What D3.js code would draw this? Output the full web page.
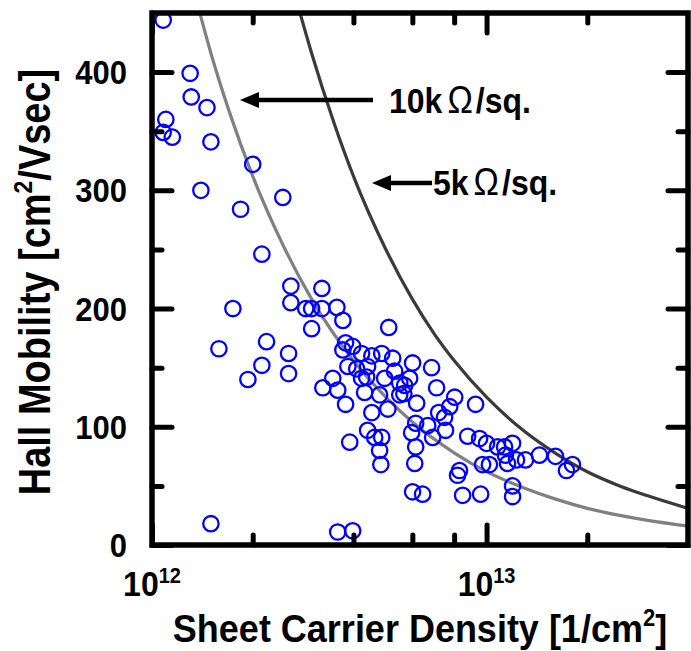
<!DOCTYPE html>
<html>
<head>
<meta charset="utf-8">
<script src="https://cdn.jsdelivr.net/npm/d3@7"></script>
<style>
  body { margin: 0; background: #fff; }
  svg text { font-family: "Liberation Sans", Arial, sans-serif; font-weight: bold; }
</style>
</head>
<body>
<div id="chart"></div>
<script>
// sheet carrier density in units of 1e12 /cm^2, hall mobility in cm^2/Vs
const densityE12 = [
  1.08, 1.30, 1.31, 1.46, 1.10, 1.08, 1.15, 1.50, 2.00, 1.40, 2.46, 1.84, 2.13, 2.60, 3.22,
  1.745, 2.60, 2.88, 3.00, 3.22, 3.57, 3.72, 3.00, 5.10, 1.585, 2.20, 2.56, 2.13, 2.56, 1.935,
  3.79, 3.98, 3.72, 4.23, 4.54, 4.86, 5.24, 3.85, 4.09, 4.41, 3.47, 4.23, 4.38, 4.96, 5.50,
  3.24, 3.59, 4.32, 4.79, 5.50, 3.79, 4.54, 5.07, 4.41, 4.63, 3.90, 4.79, 4.83, 1.50, 3.59,
  3.98, 6.01, 6.85, 5.31, 5.89, 5.69, 7.09, 5.66, 6.18, 8.03, 7.76, 9.27, 7.19, 7.49, 6.14,
  6.67, 7.54, 5.97, 6.90, 4.86, 6.14, 6.10, 8.78, 9.53, 10.0, 10.79, 11.32, 11.96, 11.39, 12.29,
  11.55, 13.07, 14.39, 16.07, 18.06, 17.33, 8.30, 8.19, 9.73, 10.2, 6.01, 6.44, 8.48, 9.60, 11.96,
  11.96
];
const mobility = [
  444, 399, 379, 370, 360, 349, 345, 341, 322, 300, 294, 284, 246, 219, 217,
  200, 205, 200, 200, 200, 201, 190, 183, 184, 166, 172, 162, 152, 145, 140,
  171, 168, 165, 162, 160, 162, 158, 151, 149, 151, 141, 141, 142, 141, 137,
  133, 131, 129, 127, 127, 119, 112, 115, 97, 91, 87, 80, 68, 18, 11,
  12, 154, 150, 147, 141, 135, 133, 128, 120, 125, 117, 119, 112, 108, 103,
  101, 97, 95, 91, 91, 83, 69, 92, 90, 86, 83, 83, 86, 76, 72,
  69, 72, 76, 75, 68, 63, 63, 59, 68, 68, 45, 43, 42, 43, 50,
  41
];

// constant sheet resistance lines
const line10kDensity = [1.39, 1.5, 1.7, 2, 2.5, 3, 4, 5, 6, 8, 10, 13, 16, 20, 25, 30, 40];
const line10kMobility = [450, 416, 367, 312, 250, 208, 156, 125, 104, 78, 62, 48, 39, 31, 25, 21, 16];
const line5kDensity = [2.77, 3, 3.5, 4, 5, 6, 7, 8, 10, 13, 16, 20, 25, 30, 40];
const line5kMobility = [450, 416, 357, 312, 250, 208, 178, 156, 125, 96, 78, 62, 50, 42, 31];

const yTicks = [0, 100, 200, 300, 400];
const yMinorTicks = [50, 150, 250, 350];
const xTicks = [1, 10];
const xTickExp = ['12', '13'];
const xMinorTicks = [2, 4, 6, 8, 20];

// ---------------------------------------------------------------
const width = 691, height = 651;
const plotL = 152, plotR = 688, plotT = 13, plotB = 545;

const svg = d3.select('#chart').append('svg')
  .attr('width', width)
  .attr('height', height);

const x = d3.scaleLog().domain([1, 40]).range([plotL, plotR]);
const y = d3.scaleLinear().domain([0, 450]).range([plotB, plotT]);

svg.append('clipPath').attr('id', 'plot-clip')
  .append('rect')
  .attr('x', plotL).attr('y', plotT)
  .attr('width', plotR - plotL).attr('height', plotB - plotT);

// 抵抗一定の線 -----------------------------------------------------
const line = d3.line()
  .x(d => x(d[0]))
  .y(d => y(d[1]))
  .curve(d3.curveMonotoneX);

const curves = [
  {pts: d3.zip(line10kDensity, line10kMobility), color: '#808080'},
  {pts: d3.zip(line5kDensity, line5kMobility), color: '#3a3a3a'}
];
svg.append('g').attr('clip-path', 'url(#plot-clip)')
  .selectAll('path')
  .data(curves)
  .join('path')
  .attr('d', d => line(d.pts))
  .attr('fill', 'none')
  .attr('stroke', d => d.color)
  .attr('stroke-width', 3.2);

// 測定点 ------------------------------------------------------------
svg.append('g')
  .selectAll('circle')
  .data(d3.zip(densityE12, mobility))
  .join('circle')
  .attr('cx', d => x(d[0]))
  .attr('cy', d => y(d[1]))
  .attr('r', 7.7)
  .attr('fill', 'none')
  .attr('stroke', '#0000ff')
  .attr('stroke-width', 2.3);

// 軸 ----------------------------------------------------------------
const tickStyle = g => {
  g.select('.domain').remove();
  g.selectAll('.tick line')
    .attr('stroke', '#000')
    .attr('stroke-width', 5)
    .attr('stroke-linecap', 'round');
};
const addAxis = (axis, tx, ty) => svg.append('g')
  .attr('transform', `translate(${tx},${ty})`)
  .call(axis.tickFormat(''))
  .call(tickStyle);

addAxis(d3.axisBottom(x).tickValues(xTicks).tickSize(-20), 0, plotB);
addAxis(d3.axisBottom(x).tickValues(xMinorTicks).tickSize(-10), 0, plotB);
addAxis(d3.axisTop(x).tickValues(xTicks).tickSize(-20), 0, plotT);
addAxis(d3.axisTop(x).tickValues(xMinorTicks).tickSize(-10), 0, plotT);
addAxis(d3.axisLeft(y).tickValues(yTicks).tickSize(-20), plotL, 0);
addAxis(d3.axisLeft(y).tickValues(yMinorTicks).tickSize(-10), plotL, 0);
addAxis(d3.axisRight(y).tickValues(yTicks).tickSize(-20), plotR, 0);
addAxis(d3.axisRight(y).tickValues(yMinorTicks).tickSize(-10), plotR, 0);

svg.append('rect')
  .attr('x', plotL).attr('y', plotT)
  .attr('width', plotR - plotL).attr('height', plotB - plotT)
  .attr('fill', 'none')
  .attr('stroke', '#000')
  .attr('stroke-width', 5.5);

// 目盛りラベル ------------------------------------------------------
svg.append('g')
  .selectAll('text')
  .data(yTicks)
  .join('text')
  .attr('transform', d => `translate(127,${y(d) + 12}) scale(1,1.08)`)
  .attr('text-anchor', 'end')
  .attr('font-size', '31px')
  .text(d => d);

const xLab = svg.append('g')
  .selectAll('text')
  .data(xTicks)
  .join('text')
  .attr('transform', d => `translate(${x(d)},596) scale(1,1.08)`)
  .attr('text-anchor', 'middle')
  .attr('font-size', '32px');
xLab.append('tspan').text('10');
xLab.append('tspan').attr('font-size', '20px').attr('dy', -12).text((d, i) => xTickExp[i]);

// 軸タイトル --------------------------------------------------------
const xTitle = svg.append('text')
  .attr('transform', `translate(${(plotL + plotR) / 2},642) scale(1,1.08)`)
  .attr('text-anchor', 'middle')
  .attr('font-size', '36px');
xTitle.append('tspan').text('Sheet Carrier Density [1/cm');
xTitle.append('tspan').attr('font-size', '22px').attr('dy', -15).text('2');
xTitle.append('tspan').attr('dy', 15).text(']');

const yTitle = svg.append('text')
  .attr('transform', `translate(50,${(plotT + plotB) / 2 + 3}) rotate(-90) scale(1,1.15)`)
  .attr('text-anchor', 'middle')
  .attr('font-size', '38px');
yTitle.append('tspan').text('Hall Mobility [cm');
yTitle.append('tspan').attr('font-size', '23px').attr('dy', -16).text('2');
yTitle.append('tspan').attr('dy', 16).text('/Vsec]');

// 注記 --------------------------------------------------------------
const notes = [
  {label: '10k', tip: [240, 100], tail: 373, tx: 389, ty: 113},
  {label: '5k', tip: [372, 183], tail: 432, tx: 433, ty: 195}
];
const note = svg.append('g').selectAll('g').data(notes).join('g');
note.append('line')
  .attr('x1', d => d.tip[0] + 12).attr('y1', d => d.tip[1])
  .attr('x2', d => d.tail).attr('y2', d => d.tip[1])
  .attr('stroke', '#000')
  .attr('stroke-width', 4.5);
note.append('path')
  .attr('d', d => `M${d.tip[0]},${d.tip[1]} L${d.tip[0] + 19},${d.tip[1] - 8} L${d.tip[0] + 19},${d.tip[1] + 8} Z`)
  .attr('fill', '#000');
const noteText = note.append('text')
  .attr('transform', d => `translate(${d.tx},${d.ty}) scale(1,1.12)`)
  .attr('font-size', '32px');
noteText.append('tspan').text(d => d.label);
noteText.append('tspan').attr('dx', 5).attr('font-weight', 'normal').attr('font-size', '34px').text('Ω');
noteText.append('tspan').attr('dx', 3).text('/sq.');
</script>
</body>
</html>
